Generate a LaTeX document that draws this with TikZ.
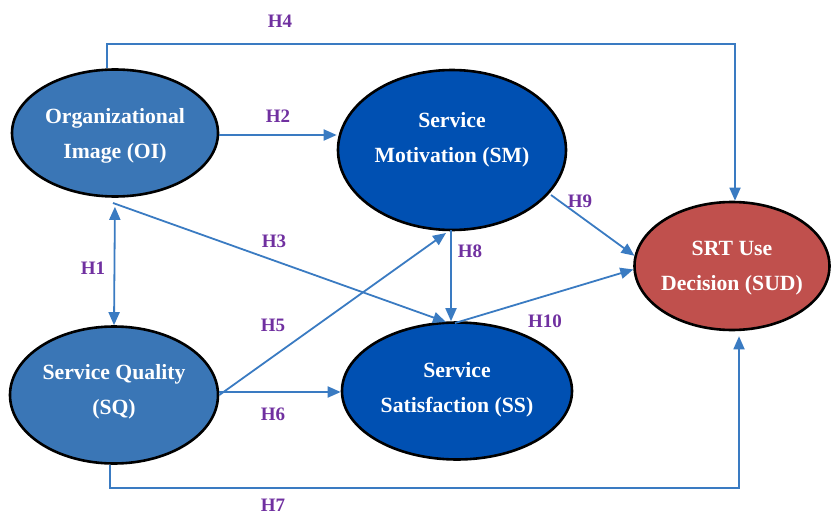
\documentclass[tikz,border=0pt]{standalone}
\usepackage{fontspec}
\setmainfont{Liberation Serif}
\usetikzlibrary{shapes.geometric,arrows.meta}
\definecolor{lightblue}{HTML}{3A76B6}
\definecolor{darkblue}{HTML}{0050B2}
\definecolor{sudred}{HTML}{C0504D}
\definecolor{linecol}{HTML}{3A7BC2}
\definecolor{hcol}{HTML}{7030A0}
\begin{document}
\begin{tikzpicture}[x=1pt,y=-1pt,
  ell/.style={ellipse,draw=black,line width=2.6pt,inner sep=0pt},
  txt/.style={text=white,align=center,font=\bfseries\fontsize{21.7}{35}\selectfont},
  conn/.style={draw=linecol,line width=1.8pt,-{Triangle[length=13pt,width=11pt]}},
  hlab/.style={text=hcol,font=\bfseries\fontsize{19}{22}\selectfont}]
\useasboundingbox (0,0) rectangle (832,516);
% ellipses
\node[ell,fill=lightblue,minimum width=206pt,minimum height=127pt] (OI) at (115,133) {};
\node[txt] (OIt) at (115,136) {Organizational\\Image (OI)};
\node[ell,fill=darkblue,minimum width=228pt,minimum height=160pt] (SM) at (452,150) {};
\node[txt] (SMt) at (452,140) {Service\\Motivation (SM)};
\node[ell,fill=lightblue,minimum width=208pt,minimum height=137pt] (SQ) at (114,395) {};
\node[txt] (SQt) at (114,392) {Service Quality\\(SQ)};
\node[ell,fill=darkblue,minimum width=230pt,minimum height=137pt] (SS) at (457,391) {};
\node[txt] (SSt) at (457,390) {Service\\Satisfaction (SS)};
\node[ell,fill=sudred,minimum width=195pt,minimum height=128pt] (SUD) at (732,266) {};
\node[txt] (SUDt) at (732,268) {SRT Use\\Decision (SUD)};
% coordinates
\coordinate (h4a) at (107,44);
\coordinate (h4b) at (735,44);
\coordinate (h7a) at (110,488);
\coordinate (h7b) at (739,488);
\coordinate (h2y) at (0,135);
\coordinate (h6y) at (0,392);
\coordinate (h3s) at (113,203);
\coordinate (h3e) at (446,322);
\coordinate (h5e) at (446,233);
\coordinate (h8s) at (451,230);
\coordinate (h9s) at (551,195);
\coordinate (h10s) at (455,323);
% connectors
\draw[conn] (OI.north -| h4a) -- (h4a) -- (h4b) -- (SUD.north -| h4b);
\draw[conn] (OI.east |- h2y) -- (SM.west |- h2y);
\draw[conn,{Triangle[length=13pt,width=11pt]}-{Triangle[length=13pt,width=11pt]},shorten <=9pt] (OI.south) -- (SQ.north);
\draw[conn] (h3s) -- (h3e);
\draw[conn] (SQ.east) -- (h5e);
\draw[conn] (SQ.east |- h6y) -- (SS.west |- h6y);
\draw[conn,shorten >=5pt] (SQ.south -| h7a) -- (h7a) -- (h7b) -- (SUD.south -| h7b);
\draw[conn] (h8s) -- (SS.north -| h8s);
\draw[conn] (h9s) -- (SUD.174);
\draw[conn] (h10s) -- (SUD.182);
% labels
\node[hlab] (L4) at (280,21) {H4};
\node[hlab] (L2) at (278,116) {H2};
\node[hlab] (L3) at (274,241) {H3};
\node[hlab] (L1) at (93,268) {H1};
\node[hlab] (L5) at (273,325) {H5};
\node[hlab] (L6) at (273,414) {H6};
\node[hlab] (L7) at (273,505) {H7};
\node[hlab] (L8) at (470,251) {H8};
\node[hlab] (L9) at (580,201) {H9};
\node[hlab] (L10) at (545,321) {H10};
\end{tikzpicture}
\end{document}
